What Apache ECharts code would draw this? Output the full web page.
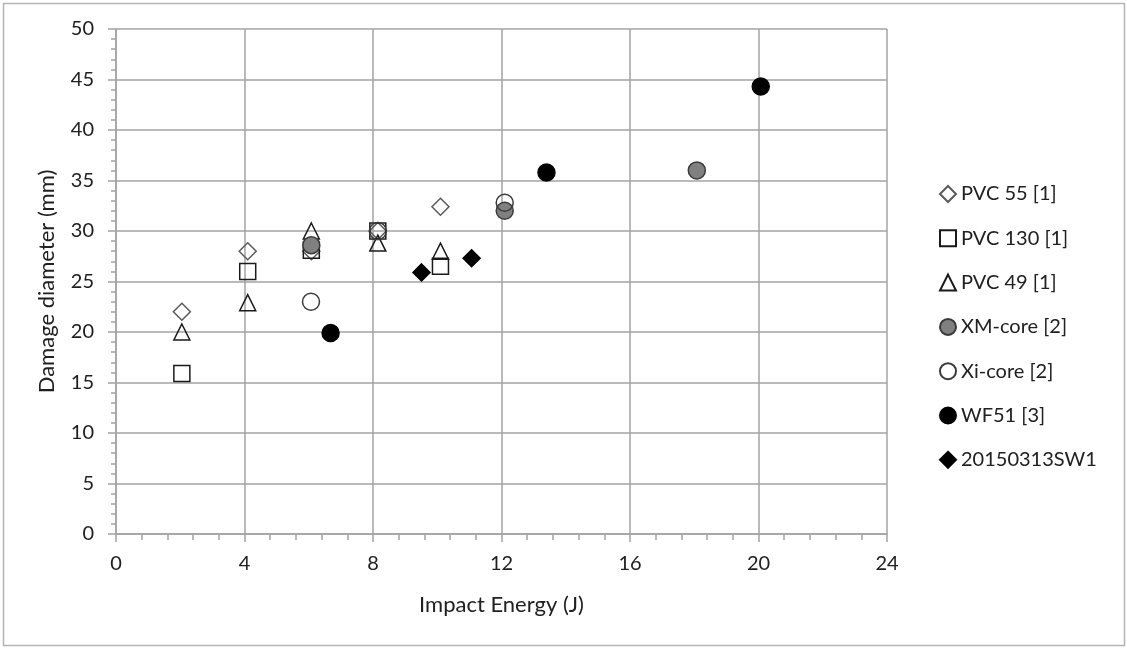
<!DOCTYPE html>
<html>
<head>
<meta charset="utf-8">
<title>Damage diameter vs impact energy</title>
<script src="https://cdn.jsdelivr.net/npm/echarts@6/dist/echarts.min.js"></script>
<style>
  html, body { margin: 0; padding: 0; background: #fff; }
  #chart { width: 1127px; height: 648px; }
</style>
</head>
<body>
<div id="chart"></div>
<script>
// Impact energy (J) and measured damage diameter (mm) for each specimen group
const pvc55Energy = [2.05, 4.1, 6.08, 8.15, 10.1];
const pvc55Diameter = [22.0, 28.0, 28.0, 30.0, 32.4];

const pvc130Energy = [2.05, 4.1, 6.08, 8.15, 10.1];
const pvc130Diameter = [15.9, 26.0, 28.1, 30.0, 26.5];

const pvc49Energy = [2.05, 4.1, 6.08, 8.15, 10.1];
const pvc49Diameter = [20.0, 22.9, 30.0, 28.8, 28.0];

const xmCoreEnergy = [6.08, 12.1, 18.08];
const xmCoreDiameter = [28.6, 32.0, 36.0];

const xiCoreEnergy = [6.07, 8.15, 12.1];
const xiCoreDiameter = [23.0, 30.0, 32.8];

const wf51Energy = [6.68, 13.4, 20.07];
const wf51Diameter = [19.9, 35.8, 44.3];

const sw1Energy = [9.51, 11.07];
const sw1Diameter = [25.9, 27.3];

const seriesNames = ['PVC 55 [1]', 'PVC 130 [1]', 'PVC 49 [1]', 'XM-core [2]', 'Xi-core [2]', 'WF51 [3]', '20150313SW1'];

function pairs(xs, ys) {
  return xs.map((x, i) => [x, ys[i]]);
}

const FONT = 'Lato';
const TEXT = '#202020';
const GRID = '#a3a3a3';

function scatter(name, xs, ys, symbol, size, fill, stroke) {
  return {
    name: name,
    type: 'scatter',
    data: pairs(xs, ys),
    symbol: symbol,
    symbolSize: size,
    itemStyle: { color: fill, borderColor: stroke, borderWidth: 1.5, opacity: 1 },
    emphasis: { disabled: true }
  };
}

const chart = echarts.init(document.getElementById('chart'), null, { renderer: 'canvas' });

chart.setOption({
  backgroundColor: '#ffffff',
  animation: false,
  textStyle: { fontFamily: FONT, color: TEXT },
  graphic: [{
    type: 'rect',
    shape: { x: 3.5, y: 3.5, width: 1121, height: 642 },
    style: { fill: 'none', stroke: '#b5b5b5', lineWidth: 1.5 },
    silent: true
  }],
  grid: { left: 116, right: 240, top: 29, bottom: 114, containLabel: false },
  legend: {
    orient: 'vertical',
    left: 934,
    top: 179,
    itemWidth: 16,
    itemHeight: 16,
    itemGap: 24.3,
    textStyle: { fontFamily: FONT, fontSize: 20, color: TEXT },
    data: seriesNames
  },
  xAxis: {
    type: 'value',
    min: 0,
    max: 24,
    interval: 4,
    name: 'Impact Energy (J)',
    nameLocation: 'middle',
    nameGap: 60,
    nameTextStyle: { fontFamily: FONT, fontSize: 22, color: TEXT },
    axisLine: { show: true, onZero: false, lineStyle: { color: GRID, width: 1.5 } },
    axisTick: { show: true, inside: false, length: 8, lineStyle: { color: GRID, width: 1.5 } },
    minorTick: { show: true, splitNumber: 5, length: 6, lineStyle: { color: GRID, width: 1.5 } },
    axisLabel: { fontFamily: FONT, fontSize: 20, color: TEXT, margin: 20 },
    splitLine: { show: true, lineStyle: { color: GRID, width: 1.5 } }
  },
  yAxis: {
    type: 'value',
    min: 0,
    max: 50,
    interval: 5,
    name: 'Damage diameter (mm)',
    nameLocation: 'middle',
    nameGap: 58,
    nameTextStyle: { fontFamily: FONT, fontSize: 22, color: TEXT },
    axisLine: { show: true, onZero: false, lineStyle: { color: GRID, width: 1.5 } },
    axisTick: { show: true, inside: false, length: 8, lineStyle: { color: GRID, width: 1.5 } },
    minorTick: { show: true, splitNumber: 5, length: 5, lineStyle: { color: GRID, width: 1.5 } },
    axisLabel: { fontFamily: FONT, fontSize: 20, color: TEXT, margin: 22 },
    splitLine: { show: true, lineStyle: { color: GRID, width: 1.5 } }
  },
  series: [
    scatter(seriesNames[0], pvc55Energy, pvc55Diameter, 'diamond', 17, 'rgba(255,255,255,0)', '#5a5a5a'),
    scatter(seriesNames[1], pvc130Energy, pvc130Diameter, 'rect', 16, 'rgba(255,255,255,0)', '#1a1a1a'),
    scatter(seriesNames[2], pvc49Energy, pvc49Diameter, 'triangle', 16, 'rgba(255,255,255,0)', '#1a1a1a'),
    scatter(seriesNames[3], xmCoreEnergy, xmCoreDiameter, 'circle', 17, '#808080', '#3a3a3a'),
    scatter(seriesNames[4], xiCoreEnergy, xiCoreDiameter, 'circle', 17, 'rgba(255,255,255,0)', '#3a3a3a'),
    scatter(seriesNames[5], wf51Energy, wf51Diameter, 'circle', 17, '#000000', '#000000'),
    scatter(seriesNames[6], sw1Energy, sw1Diameter, 'diamond', 17, '#000000', '#000000')
  ]
});
</script>
</body>
</html>
